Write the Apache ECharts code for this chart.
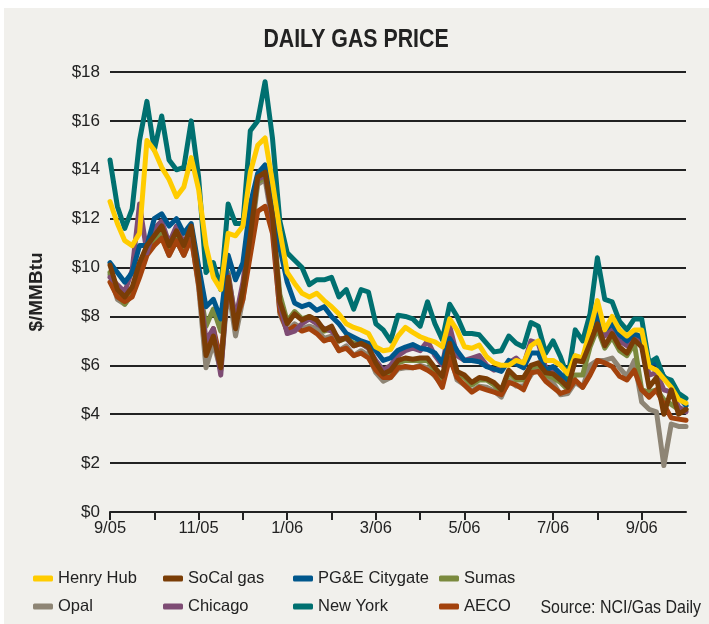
<!DOCTYPE html>
<html>
<head>
<meta charset="utf-8">
<script src="https://cdn.jsdelivr.net/npm/echarts@6/dist/echarts.min.js"></script>
<style>
html,body{margin:0;padding:0;background:#ffffff;}
#chart{width:709px;height:624px;}
</style>
</head>
<body>
<div id="chart"></div>
<script>
// Month labels for the x axis (6 samples per month, Sep 2005 .. end of Sep 2006)
const months = ['9/05','10/05','11/05','12/05','1/06','2/06','3/06','4/06','5/06','6/06','7/06','8/06','9/06','10/06'];
const samplesPerMonth = 6;
const yTicks = [0, 2, 4, 6, 8, 10, 12, 14, 16, 18];

const henryHub = [12.7,11.8,11.1,10.9,11.4,15.2,14.8,14.1,13.6,12.9,13.3,14.5,13.2,10.9,9.6,9.1,11.4,11.3,11.7,13.9,
  15.0,15.3,13.5,11.5,9.8,9.35,8.95,8.8,8.95,8.65,8.4,8.1,7.7,7.55,7.45,7.3,6.75,6.6,6.65,7.2,
  7.55,7.35,7.17,7.05,6.96,6.76,7.9,7.44,6.76,6.7,6.83,6.35,6.1,6.0,6.0,6.2,6.1,6.8,7.0,6.2,
  6.2,6.0,5.65,6.4,6.3,7.45,8.65,7.45,8.0,7.45,7.2,7.45,7.45,5.95,5.8,5.45,5.1,4.6,4.45];
const soCal = [10.1,9.1,8.8,9.2,10.2,10.9,11.3,11.7,10.9,11.5,10.9,11.7,9.6,6.4,7.2,5.9,9.6,7.5,9.1,11.3,
  13.7,13.9,12.1,8.6,7.7,8.1,7.85,8.0,7.85,7.45,7.6,7.0,7.15,6.8,6.9,6.75,6.1,5.65,5.8,6.2,
  6.3,6.25,6.3,6.3,5.9,5.55,6.9,5.75,5.6,5.3,5.5,5.45,5.3,5.0,5.8,5.5,5.5,6.0,6.1,5.7,
  5.65,5.4,5.1,6.2,6.15,6.9,7.7,6.8,7.3,6.75,6.5,7.05,6.75,5.1,5.5,4.0,5.0,4.0,4.2];
const pge = [10.2,9.8,9.4,9.8,10.9,10.9,12.0,12.2,11.7,12.0,11.4,11.8,10.05,8.4,8.7,7.9,10.5,9.5,10.2,12.6,
  13.85,14.2,12.6,10.8,9.4,8.55,8.4,8.5,8.25,8.4,8.0,7.7,7.3,7.15,7.0,6.9,6.6,6.2,6.3,6.62,
  6.75,6.85,6.7,6.65,6.5,6.1,7.1,6.6,6.2,6.2,6.15,5.95,5.85,5.75,6.2,6.05,5.9,6.5,6.5,5.8,
  5.95,5.65,5.4,6.35,6.3,7.15,8.05,7.45,7.7,7.25,7.0,7.3,7.15,6.1,6.1,5.55,5.25,4.7,4.35];
const sumas = [9.8,8.9,8.5,9.0,10.0,10.8,11.1,11.5,10.7,11.3,10.7,11.5,9.4,7.6,8.3,7.4,9.8,7.8,9.0,11.4,
  13.5,13.7,12.2,8.9,7.8,8.2,7.9,8.0,7.8,7.4,7.5,7.0,7.1,6.9,6.9,6.7,6.0,5.6,5.7,6.1,
  6.2,6.2,6.2,6.2,5.8,5.4,6.8,5.7,5.5,5.2,5.4,5.4,5.2,4.9,5.7,5.4,5.4,5.9,6.0,5.6,
  5.5,5.3,5.0,5.6,5.6,6.75,7.5,6.7,7.15,6.6,6.4,6.9,5.0,4.9,5.0,4.6,4.4,4.2,4.2];
const opal = [9.7,8.7,8.5,8.9,9.8,10.6,11.0,11.3,10.5,11.1,10.5,11.3,9.2,5.9,6.9,5.8,9.2,7.2,8.7,11.0,
  13.4,13.6,11.8,8.1,7.4,7.7,7.5,7.6,7.5,7.1,7.2,6.6,6.8,6.4,6.6,6.4,5.7,5.35,5.5,5.85,
  5.9,5.9,6.0,5.9,5.55,5.2,6.5,5.4,5.2,4.95,5.15,5.1,4.95,4.7,5.4,5.15,5.15,5.6,6.0,5.5,
  5.3,4.8,4.85,5.3,5.1,6.0,6.2,6.2,6.3,5.9,5.55,6.2,4.5,4.2,4.1,1.9,3.6,3.5,3.5];
const chicago = [9.6,9.3,9.0,9.9,12.6,10.6,11.6,11.9,11.0,11.7,11.0,11.6,9.7,7.0,7.5,5.6,9.7,7.9,9.4,11.8,
  13.6,13.8,12.0,8.5,7.3,7.4,7.7,7.9,7.7,7.5,7.4,7.1,7.1,6.8,6.9,6.7,6.2,5.8,6.0,6.4,
  6.6,6.7,6.6,7.0,6.4,6.0,7.6,6.4,6.2,6.3,6.4,6.0,5.8,5.9,6.1,6.3,6.0,7.0,6.9,5.9,
  5.8,5.6,5.3,6.2,6.2,7.0,8.3,7.2,7.5,7.0,6.8,7.2,7.0,5.6,5.7,5.0,4.9,4.3,4.1];
const newYork = [14.4,12.5,11.6,12.4,15.2,16.8,14.8,16.2,14.4,14.0,14.1,16.0,13.7,9.8,10.2,9.1,12.6,11.8,11.8,15.6,
  16.0,17.6,15.3,11.9,10.6,10.3,10.0,9.3,9.5,9.5,9.6,8.8,9.1,8.3,9.1,9.0,7.7,7.45,7.0,8.05,
  8.0,7.9,7.6,8.6,7.7,7.05,8.5,8.0,7.3,7.3,7.25,6.9,6.55,6.6,7.2,6.9,6.75,7.75,7.6,6.5,
  7.0,6.35,5.5,7.45,7.0,8.1,10.4,8.7,8.6,7.8,7.45,7.9,7.9,6.1,6.3,5.5,5.4,4.85,4.65];
const aeco = [9.4,8.8,8.6,8.8,9.6,10.5,10.9,11.2,10.5,11.1,10.5,11.2,9.3,6.6,7.5,6.2,9.4,7.8,8.7,10.5,
  12.3,12.5,11.4,8.2,7.4,7.6,7.4,7.5,7.3,7.0,7.1,6.6,6.7,6.4,6.5,6.3,5.8,5.5,5.5,5.9,
  5.95,5.9,5.95,5.8,5.6,5.1,6.3,5.5,5.2,4.9,5.1,5.0,4.9,4.8,5.3,5.2,5.0,5.7,5.75,5.35,
  5.1,4.85,4.95,5.4,5.1,5.6,6.2,6.1,5.95,5.55,5.4,5.8,5.0,4.7,5.0,4.4,3.85,3.8,3.75];

const categories = [];
for (let m = 0; m < months.length - 1; m++) {
  for (let k = 0; k < samplesPerMonth; k++) categories.push(months[m] + '|' + k);
}
categories.push(months[months.length - 1] + '|0');

const seriesDefs = [
  {name: 'Henry Hub', data: henryHub, color: '#FFCC00', z: 8},
  {name: 'SoCal gas', data: soCal, color: '#7A3D06', z: 9},
  {name: 'PG&E Citygate', data: pge, color: '#00578C', z: 6},
  {name: 'Sumas', data: sumas, color: '#7B8A3E', z: 3},
  {name: 'Opal', data: opal, color: '#8E8575', z: 2},
  {name: 'Chicago', data: chicago, color: '#7E4C74', z: 5},
  {name: 'New York', data: newYork, color: '#007070', z: 7},
  {name: 'AECO', data: aeco, color: '#A3420C', z: 4}
];

const FONT = "'Liberation Sans', Arial, Helvetica, sans-serif";
const legendPos = [
  [28, 565], [158, 565], [288, 565], [434, 565],
  [28, 593], [158, 593], [288, 593], [434, 593]
];

const chart = echarts.init(document.getElementById('chart'), null, {renderer: 'canvas'});
chart.setOption({
  animation: false,
  backgroundColor: '#ffffff',
  graphic: [
    {type: 'rect', left: 4, top: 8, shape: {width: 705, height: 616}, style: {fill: '#F1F0EC'}, z: -10},
    {type: 'text', x: 356, y: 40, scaleX: 0.82,
      style: {text: 'DAILY GAS PRICE', font: 'bold 26px ' + FONT, fill: '#222', align: 'center', verticalAlign: 'middle'}},
    {type: 'text', x: 701, y: 608, scaleX: 0.84,
      style: {text: 'Source: NCI/Gas Daily', font: '19px ' + FONT, fill: '#222', align: 'right', verticalAlign: 'middle'}}
  ],
  legend: seriesDefs.map((s, i) => ({
    data: [s.name], left: legendPos[i][0], top: legendPos[i][1],
    icon: 'roundRect', itemWidth: 20, itemHeight: 6, itemGap: 5,
    textStyle: {fontFamily: FONT, fontSize: 16.5, color: '#222'},
    selectedMode: false
  })),
  grid: {left: 110, right: 23, top: 72, bottom: 112, containLabel: false},
  xAxis: {
    type: 'category', data: categories, boundaryGap: false,
    axisLine: {show: true, lineStyle: {color: '#222', width: 2}},
    axisTick: {show: true, length: 8, lineStyle: {color: '#222', width: 2},
      interval: function (i) { return i % samplesPerMonth === 0 && i < categories.length - 1; }},
    axisLabel: {
      interval: function (i) { return i % (samplesPerMonth * 2) === 0; },
      formatter: function (v) { return v.split('|')[0]; },
      fontFamily: FONT, fontSize: 16.5, color: '#222', margin: 8
    },
    splitLine: {show: false}
  },
  yAxis: {
    type: 'value', min: yTicks[0], max: yTicks[yTicks.length - 1], interval: 2,
    name: '$/MMBtu', nameLocation: 'middle', nameGap: 64, nameRotate: 90,
    nameTextStyle: {fontFamily: FONT, fontWeight: 'bold', fontSize: 19, color: '#222'},
    axisLine: {show: false}, axisTick: {show: false},
    axisLabel: {formatter: function (v) { return '$' + v; }, fontFamily: FONT, fontSize: 17, color: '#222', margin: 10},
    splitLine: {show: true, lineStyle: {color: '#222', width: 2}}
  },
  series: seriesDefs.map(s => ({
    name: s.name, type: 'line', data: s.data, z: s.z,
    showSymbol: false, symbol: 'none', smooth: false,
    color: s.color,
    lineStyle: {color: s.color, width: 5, join: 'round', cap: 'round'},
    emphasis: {disabled: true}
  }))
});
</script>
</body>
</html>
